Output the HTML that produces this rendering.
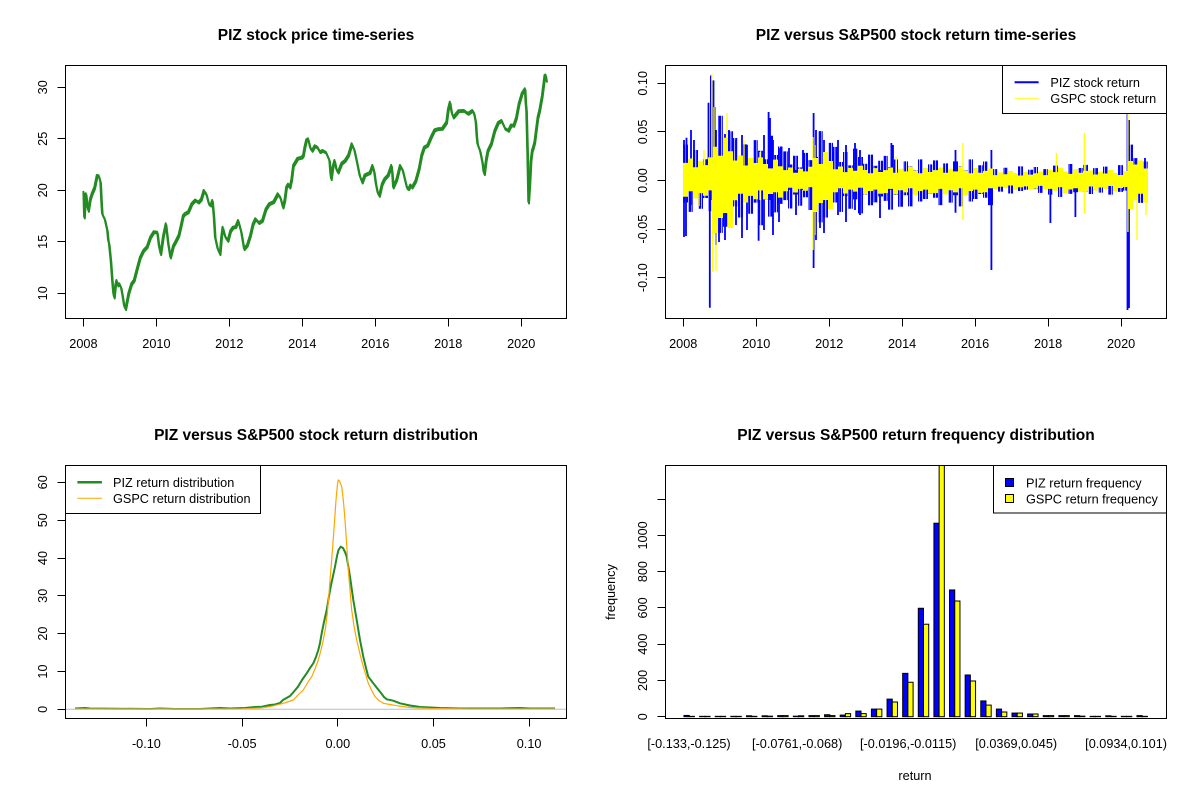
<!DOCTYPE html>
<html><head><meta charset="utf-8">
<style>
html,body{margin:0;padding:0;background:#fff;}
svg{display:block;font-family:"Liberation Sans",Arial,sans-serif;}
</style></head><body>
<svg width="1200" height="800" viewBox="0 0 1200 800" xmlns="http://www.w3.org/2000/svg">
<rect width="1200" height="800" fill="#fff"/>
<defs>
<clipPath id="c1"><rect x="66" y="66" width="500" height="252"/></clipPath>
<clipPath id="c2"><rect x="666" y="66" width="500" height="252"/></clipPath>
<clipPath id="c3"><rect x="66" y="466" width="500" height="252"/></clipPath>
<clipPath id="c4"><rect x="666" y="465.5" width="500" height="252.5"/></clipPath>
<pattern id="vb" x="0" y="0" width="13" height="20" patternUnits="userSpaceOnUse">
 <rect x="0" width="2.5" height="20" fill="#0000FF"/>
 <rect x="3.3" width="3" height="20" fill="#0000FF"/>
 <rect x="7.2" width="2" height="20" fill="#0000FF"/>
 <rect x="10" width="2.3" height="20" fill="#0000FF"/>
</pattern>
</defs>

<!-- Titles -->
<g font-size="15.5" font-weight="bold" text-anchor="middle" fill="#000">
<text x="316" y="40">PIZ stock price time-series</text>
<text x="916" y="40">PIZ versus S&amp;P500 stock return time-series</text>
<text x="316" y="440">PIZ versus S&amp;P500 stock return distribution</text>
<text x="916" y="440">PIZ versus S&amp;P500 return frequency distribution</text>
</g>

<!-- Panel 1 price -->
<g clip-path="url(#c1)" fill="none" stroke="#228B22" stroke-linejoin="round" stroke-linecap="round">
<polyline id="pl" stroke-width="2" points="83.4,191.7 83.8,207.2 84.1,216.7 85,202 85.8,193.3 87,204.7 88.2,210 90,198.7 91.7,193.3 94.3,187.2 96.8,175 98.6,175.3 100.3,181.7 101.2,200.5 102,213.3 104.6,218.7 107.1,230 108,239.7 108.9,243.3 110.6,260.3 112.3,283.3 113.2,293 114,296.7 115.2,285.3 116.4,280 117.8,284.7 119.2,283.3 120.9,287 122.6,296.7 124,305.5 125.4,308.3 128.4,292.8 131.3,283.3 133.9,279.7 136.4,270 139.9,257 143.3,250 146.8,246.3 150.2,236.7 153.7,231.2 157.1,231.7 158.8,245.5 160.5,253.3 163.1,235.3 165.7,223.3 168,243 170.2,256.7 173.1,245.3 176,240 178.6,234.7 181.2,223.3 182.9,215.3 184.6,213.3 188.1,211.3 191.5,203.3 195,199.5 198.4,201.7 201,198.8 203.6,190 206.2,193.7 208.7,203.3 210.5,204.7 212.2,200 213.6,215.3 214.9,236.7 217.4,248 219.8,253.3 221.2,237 222.5,226.7 225.1,236.3 227.7,240 230.3,230.3 232.8,226.7 235.4,226.3 238,220 241,231.2 243.9,248.3 247,244.7 250.1,235 252.7,223.7 255.2,218.3 258.7,222.2 262.1,220 265.6,208.7 269,203.3 273.3,201.3 277.6,193.3 280.2,197 282.8,206.7 284.5,199.7 286.2,186.7 288,183.7 289.7,186.7 291.4,178.8 293.1,165 297.4,157.8 301.7,156.7 303.1,154.7 304.5,146.7 306.2,139.5 307.9,138.3 310,147.2 312,150 314.6,145.3 317.2,146.7 319.8,151.3 322.4,150 325.9,152 329.3,160 330.2,172.2 331,178.3 332.7,166.2 334.4,160 336.2,168.8 337.9,171.7 341.4,162.8 344.8,160 348.2,154.7 351.6,143.3 354.2,149.5 356.8,161.7 359.4,174.7 362,181.7 364.6,174.5 367.1,173.3 369.7,172.2 372.3,165 374,171.2 375.7,183.3 377.5,192.2 379.2,195 381.8,183.7 384.4,178.3 387.8,174.7 391.2,165 392.1,172.8 393,186.7 396.5,178.8 399.9,165 402.5,169.5 405,180 406.8,187.2 408.5,188.3 410.2,184.5 411.9,186.7 415.4,180.5 418.8,168.3 421.4,154.5 424,146.7 427.4,144.7 430.8,136.7 434.3,129.5 437.7,128.3 442,128 446.3,121.7 448,108.7 449.8,101.7 451.5,112.2 453.2,116.7 458.4,110.3 463.6,110 467.9,113 472.2,110 473.9,112.8 475.6,121.7 476.5,135.5 477.3,143.3 479.9,150.3 482.5,163.3 483.4,171.3 484.2,173.3 486,158.7 487.7,150 491.1,143 494.5,130 498,122 501.4,120 504.9,128 508.3,130 510.9,124.5 513.5,125 516.1,117.2 518.7,103.3 521.8,92.8 524.8,88.3 525.5,102.2 526.2,110 527.3,152.8 528.3,201.7 529.5,183.8 530.7,160 531.9,150.3 533.1,146.7 534.5,141.3 535.9,130 537.6,117 539.3,110 541.9,95.5 544.5,75 545.4,74.5 546.2,80"/>
<use href="#pl" transform="translate(0.7,1.8)" stroke-width="1"/>
</g>

<!-- Panel 2 returns -->
<g clip-path="url(#c2)">
<path transform="translate(0,180.5) scale(1,1.12) translate(0,-180.5)" fill="url(#vb)" d="M683,180.5 V148.5 H688 V162.9 H693 V153.3 H698 V166.1 H703 V161.5 H708 V166.5 H713 V153 H718 V122.7 H723 V147.5 H728 V136.5 H733 V142.5 H738 V159.6 H743 V148.2 H748 V163.4 H753 V144.4 H758 V153.9 H763 V161.5 H768 V140.6 H773 V157.7 H778 V150.1 H783 V154.5 H788 V166.2 H793 V158.4 H798 V168.8 H803 V155.8 H808 V162.3 H813 V159.5 H818 V136.4 H823 V155.3 H828 V146.9 H833 V150.5 H838 V164 H843 V155 H848 V167 H853 V152 H858 V159.5 H863 V165.5 H868 V157.4 H873 V167.3 H878 V162.9 H883 V158.5 H888 V168.4 H893 V161.8 H898 V170.6 H903 V163.4 H908 V167.9 H913 V171.5 H918 V161.6 H923 V169.7 H928 V166.1 H933 V162.5 H938 V170.6 H943 V165.2 H948 V172.4 H953 V163.4 H958 V167.9 H963 V171.5 H968 V161.6 H973 V169.7 H978 V166.9 H983 V163.5 H988 V171.1 H993 V170.3 H998 V175.1 H1003 V169.1 H1008 V172.1 H1013 V174.5 H1018 V167.9 H1023 V173.3 H1028 V170.9 H1033 V168.5 H1038 V173.9 H1043 V170.3 H1048 V174.2 H1053 V167.2 H1058 V170.7 H1063 V173.5 H1068 V165.8 H1073 V172.1 H1078 V169.3 H1083 V166.5 H1088 V173.3 H1093 V169.4 H1098 V174.6 H1103 V168.1 H1108 V171.4 H1113 V174 H1118 V166.8 H1123 V172.7 H1128 V148.5 H1133 V160.5 H1138 V169.5 H1143 V163.5 H1148 V180.5 Z
M683,180.5 V200.1 H688 V208.5 H693 V194.5 H698 V205.7 H703 V196.1 H708 V207.8 H713 V205.3 H718 V227.3 H723 V221.8 H728 V210.8 H733 V203.6 H738 V213.5 H743 V197 H748 V210.2 H753 V200.3 H758 V220.4 H763 V197.6 H768 V212.8 H773 V209 H778 V201.4 H783 V198 H788 V205.5 H793 V193 H798 V203 H803 V195.5 H808 V206.8 H813 V200.3 H818 V217.9 H823 V213.5 H828 V204.7 H833 V200.1 H838 V208.5 H843 V194.5 H848 V205.7 H853 V197.3 H858 V209.9 H863 V193.1 H868 V202.6 H873 V200 H878 V194.8 H883 V198.7 H888 V206.5 H893 V193.5 H898 V203.9 H903 V193.7 H908 V203.6 H913 V190.4 H918 V199.2 H923 V197 H928 V192.6 H933 V195.9 H938 V202.5 H943 V191.5 H948 V200.3 H953 V193.7 H958 V203.6 H963 V190.4 H968 V199.2 H973 V197 H978 V192.6 H983 V195.9 H988 V202.5 H993 V186 H998 V190.4 H1003 V187.1 H1008 V192.1 H1013 V185.5 H1018 V189.9 H1023 V188.8 H1028 V186.6 H1033 V188.2 H1038 V191.5 H1043 V186 H1048 V193.1 H1053 V188.9 H1058 V195.2 H1063 V186.8 H1068 V192.4 H1073 V191 H1078 V188.2 H1083 V190.3 H1088 V192.5 H1093 V186.5 H1098 V191.3 H1103 V187.7 H1108 V193.1 H1113 V185.9 H1118 V190.7 H1123 V189.5 H1128 V202.5 H1133 V194.5 H1138 V200.5 H1143 V190.5 H1148 V180.5 Z"/>
<path fill="none" stroke="#0000FF" stroke-width="1.8" d="M709.8,180 V307.8 M710.9,75.5 V200 M713.5,80.4 V210 M708.5,102.7 V190 M714.6,107 V230 M716,130 V245 M691,130 V205 M686.5,137.7 V190 M686,170 V236 M684,140 V237 M694,140 V185 M719,160 V242 M725,134 V240 M729,130 V200 M736,140 V225 M742,135 V238 M747,145 V230 M758.6,170 V240.7 M768.6,112 V190 M770,118 V200 M764,135 V230 M773,140 V235 M779,148 V222 M789,148 V190 M796,170 V215 M803,150 V190 M813.6,113 V268 M816,130 V240 M820,137 V228 M824,140 V233 M838,140 V215 M846,145 V222 M855,143 V210 M860,150 V215 M880,170 V218 M891.4,143 V190 M893,145 V190 M955.5,150 V212.7 M991.4,150 V270 M1050.4,170 V223 M1075.4,170 V217 M1127.5,113 V310 M1129,120 V308 M1145,158 V195"/>
<path fill="#FFFF00" d="M683,180.5 V162.9 H688 V158.5 H693 V167.3 H698 V160.7 H703 V165.1 H708 V157.4 H713 V146.7 H718 V155.7 H723 V137.7 H728 V151.2 H733 V160.5 H738 V155.5 H743 V165.5 H748 V158 H753 V163 H758 V157.4 H763 V164 H768 V168.4 H773 V159.6 H778 V166.2 H783 V170.1 H788 V167.5 H793 V172.7 H798 V168.8 H803 V171.4 H808 V166.8 H813 V158 H818 V164 H823 V152 H828 V161 H833 V169.3 H838 V166.5 H843 V172.1 H848 V167.9 H853 V170.7 H858 V165.8 H863 V170 H868 V173.3 H873 V168.1 H878 V172 H883 V170.1 H888 V167.5 H893 V172.7 H898 V168.8 H903 V171.4 H908 V166.8 H913 V170.7 H918 V173.3 H923 V168.1 H928 V172 H933 V170.1 H938 V167.5 H943 V172.7 H948 V168.8 H953 V171.4 H958 V166.8 H963 V170.7 H968 V173.3 H973 V168.1 H978 V172.7 H983 V170.9 H988 V168.5 H993 V175.1 H998 V172.4 H1003 V174.2 H1008 V171 H1013 V173.7 H1018 V175.5 H1023 V171.9 H1028 V174.6 H1033 V173.3 H1038 V171.5 H1043 V175.1 H1048 V169.7 H1053 V172.1 H1058 V167.9 H1063 V171.5 H1068 V173.9 H1073 V169.1 H1078 V172.7 H1083 V170.9 H1088 V170.5 H1093 V174.5 H1098 V171.5 H1103 V173.5 H1108 V170 H1113 V173 H1118 V175 H1123 V171 H1128 V161 H1133 V164.5 H1138 V160.5 H1143 V168.5 H1148 V180.5 Z
M683,180.5 V196.7 H688 V191.3 H693 V198.5 H698 V193.1 H703 V195.8 H708 V190.4 H713 V233 H718 V218 H723 V213 H728 V228 H733 V200.3 H738 V193.7 H743 V202.5 H748 V195.9 H753 V199.2 H758 V190.4 H763 V199.4 H768 V194 H773 V192.2 H778 V197.6 H783 V191.3 H788 V187.7 H793 V192.5 H798 V188.9 H803 V190.7 H808 V187.1 H813 V212 H818 V203 H823 V200 H828 V209 H833 V192.2 H838 V188.3 H843 V193.5 H848 V189.6 H853 V191.6 H858 V187.7 H863 V194.2 H868 V191 H873 V189.6 H878 V193.8 H883 V193.1 H888 V188.9 H893 V194.5 H898 V190.3 H903 V192.4 H908 V188.2 H913 V195.2 H918 V191 H923 V189.6 H928 V193.8 H933 V193.1 H938 V188.9 H943 V194.5 H948 V190.3 H953 V192.4 H958 V188.2 H963 V195.2 H968 V191 H973 V189.6 H978 V192.9 H983 V192.2 H988 V188.3 H993 V189.5 H998 V186.8 H1003 V188.2 H1008 V185.5 H1013 V190 H1018 V187.3 H1023 V186.4 H1028 V189.1 H1033 V188.6 H1038 V185.9 H1043 V189.5 H1048 V188.9 H1053 V190.7 H1058 V187.1 H1063 V193.1 H1068 V189.5 H1073 V188.3 H1078 V191.9 H1083 V191.3 H1088 V186.5 H1093 V190.5 H1098 V187.5 H1103 V189 H1108 V186 H1113 V191 H1118 V188 H1123 V187 H1128 V209 H1133 V200.3 H1138 V193.7 H1143 V202.5 H1148 V180.5 Z"/>
<path fill="none" stroke="#FFFF00" stroke-width="1.3" d="M711.8,74 V180 M712.5,180 V271.7 M716,150 V271 M714,107 V200 M727,113 V200 M704,150 V190 M699,170 V206 M813,137 V250 M815,145 V235 M962.9,143 V220 M1056.4,153 V190 M1084.3,133 V213 M1127.9,93 V232 M1137,170 V240 M1146,170 V215 M760,152 V200 M896,157 V190 M744,140 V190"/>
</g>

<!-- Panel 3 densities -->
<g clip-path="url(#c3)" fill="none" stroke-linejoin="round">
<polyline stroke="#228B22" stroke-width="2" points="75,708.5 85,708 90,708.5 150,709 160,708.5 175,709 200,709 220,708 230,708.5 245,708 255,707 262,706.7 270,705 275,704.5 280,703 283,700 290,696 294,691.5 298,686.7 302,680 306.7,673.3 310,668 313.3,663.3 316,657 318.3,650 320,643 321.7,633.3 324,622 326.7,610 328.7,598 330.7,586.7 333,576 335,566.7 337,556 338.5,550 340.7,546.7 343,548 345,552 346.7,556.7 350,576.7 353.3,600 356.7,620 360,640 363.3,656.7 366,668 368.3,676.7 373.3,683.3 377,688 380,691.7 384,697 386.7,699.3 393.3,700.7 400,703.3 410,705.5 420,707 440,708 460,708.5 500,708.5 520,708 530,708.5 555,708.5"/>
<polyline stroke="#FFA500" stroke-width="1.2" points="75,709 150,709 200,709 240,709 260,708 270,706.7 283.3,703.3 293.3,700 298,695 303.3,690 308,682 311.7,676.7 315,669 318.3,660 321,650 323.3,640 325.5,628 327.3,613.3 328.8,596 330,580 331.5,562 332.7,546.7 334.5,522 336,500 337.5,484 338.3,480 339.5,481 341.7,486.7 343.5,502 345,520 346.7,545 348.3,570 350,590 351.7,610 354,626 356.7,640 360,654 363.3,666.7 365.8,675 368.3,683.3 371.7,690.5 375,696.7 379,700.5 383.3,703.3 390,704.5 396.7,705.7 410,707.5 430,708.5 470,709 520,709 555,709"/>
<line x1="66" y1="709.3" x2="566" y2="709.3" stroke="#BEBEBE" stroke-width="1"/>
</g>

<!-- Panel 4 bars -->
<g clip-path="url(#c4)" stroke="#000" stroke-width="1">
<g fill="#0000FF">
<rect x="683.99" y="715.43" width="5.21" height="1.27"/>
<rect x="699.61" y="716.34" width="5.21" height="0.36"/>
<rect x="715.23" y="716.34" width="5.21" height="0.36"/>
<rect x="730.85" y="716.34" width="5.21" height="0.36"/>
<rect x="746.47" y="715.79" width="5.21" height="0.91"/>
<rect x="762.09" y="715.79" width="5.21" height="0.91"/>
<rect x="777.71" y="715.61" width="5.21" height="1.09"/>
<rect x="793.33" y="716.16" width="5.21" height="0.54"/>
<rect x="808.95" y="715.61" width="5.21" height="1.09"/>
<rect x="824.57" y="714.71" width="5.21" height="1.99"/>
<rect x="840.19" y="715.07" width="5.21" height="1.63"/>
<rect x="855.81" y="711.08" width="5.21" height="5.62"/>
<rect x="871.43" y="709.08" width="5.21" height="7.62"/>
<rect x="887.05" y="699.11" width="5.21" height="17.59"/>
<rect x="902.67" y="673.36" width="5.21" height="43.34"/>
<rect x="918.29" y="608.26" width="5.21" height="108.44"/>
<rect x="933.91" y="523.22" width="5.21" height="193.48"/>
<rect x="949.53" y="589.95" width="5.21" height="126.75"/>
<rect x="965.15" y="674.99" width="5.21" height="41.71"/>
<rect x="980.77" y="700.92" width="5.21" height="15.78"/>
<rect x="996.39" y="709.08" width="5.21" height="7.62"/>
<rect x="1012.01" y="713.07" width="5.21" height="3.63"/>
<rect x="1027.63" y="713.98" width="5.21" height="2.72"/>
<rect x="1043.25" y="715.61" width="5.21" height="1.09"/>
<rect x="1058.87" y="715.61" width="5.21" height="1.09"/>
<rect x="1074.49" y="715.61" width="5.21" height="1.09"/>
<rect x="1090.11" y="716.34" width="5.21" height="0.36"/>
<rect x="1105.73" y="715.79" width="5.21" height="0.91"/>
<rect x="1121.35" y="716.34" width="5.21" height="0.36"/>
<rect x="1136.97" y="715.61" width="5.21" height="1.09"/>
</g>
<g fill="#FFFF00">
<rect x="689.2" y="716.34" width="5.21" height="0.36"/>
<rect x="704.82" y="716.34" width="5.21" height="0.36"/>
<rect x="720.44" y="716.34" width="5.21" height="0.36"/>
<rect x="736.06" y="716.34" width="5.21" height="0.36"/>
<rect x="751.68" y="716.34" width="5.21" height="0.36"/>
<rect x="767.3" y="716.16" width="5.21" height="0.54"/>
<rect x="782.92" y="715.61" width="5.21" height="1.09"/>
<rect x="798.54" y="715.79" width="5.21" height="0.91"/>
<rect x="814.16" y="715.61" width="5.21" height="1.09"/>
<rect x="829.78" y="715.61" width="5.21" height="1.09"/>
<rect x="845.4" y="713.62" width="5.21" height="3.08"/>
<rect x="861.02" y="713.62" width="5.21" height="3.08"/>
<rect x="876.64" y="709.08" width="5.21" height="7.62"/>
<rect x="892.26" y="702.01" width="5.21" height="14.69"/>
<rect x="907.88" y="682.25" width="5.21" height="34.45"/>
<rect x="923.5" y="624.22" width="5.21" height="92.48"/>
<rect x="939.12" y="455" width="5.21" height="261.7"/>
<rect x="954.74" y="601.01" width="5.21" height="115.69"/>
<rect x="970.36" y="680.98" width="5.21" height="35.72"/>
<rect x="985.98" y="705.09" width="5.21" height="11.61"/>
<rect x="1001.6" y="711.99" width="5.21" height="4.71"/>
<rect x="1017.22" y="713.07" width="5.21" height="3.63"/>
<rect x="1032.84" y="713.98" width="5.21" height="2.72"/>
<rect x="1048.46" y="715.61" width="5.21" height="1.09"/>
<rect x="1064.08" y="715.61" width="5.21" height="1.09"/>
<rect x="1079.7" y="716.16" width="5.21" height="0.54"/>
<rect x="1095.32" y="716.34" width="5.21" height="0.36"/>
<rect x="1110.94" y="716.34" width="5.21" height="0.36"/>
<rect x="1126.56" y="716.34" width="5.21" height="0.36"/>
<rect x="1142.18" y="716.34" width="5.21" height="0.36"/>
</g>
</g>

<!-- Legend for panel 2 (opaque) -->
<g>
<rect x="1002.5" y="65.5" width="164" height="48" fill="#fff" stroke="#000" stroke-width="1"/>
<line x1="1014.6" y1="82.3" x2="1038.6" y2="82.3" stroke="#0000FF" stroke-width="2"/>
<line x1="1014.6" y1="98.3" x2="1038.6" y2="98.3" stroke="#FFFF00" stroke-width="1"/>
<text x="1050.4" y="86.8" font-size="12.7">PIZ stock return</text>
<text x="1050.4" y="102.8" font-size="12.7">GSPC stock return</text>
</g>

<!-- Legend panel 3 -->
<g>
<rect x="65.5" y="465.5" width="195" height="48" fill="#fff" stroke="#000" stroke-width="1"/>
<line x1="77.4" y1="482.3" x2="101.9" y2="482.3" stroke="#228B22" stroke-width="2.5"/>
<line x1="77.4" y1="498.3" x2="101.9" y2="498.3" stroke="#FFA500" stroke-width="1"/>
<text x="113" y="486.8" font-size="12.7">PIZ return distribution</text>
<text x="113" y="502.8" font-size="12.7">GSPC return distribution</text>
</g>

<!-- Legend panel 4 -->
<g>
<rect x="993.5" y="465.5" width="173" height="47.5" fill="#fff" stroke="#000" stroke-width="1"/>
<rect x="1005.5" y="478.5" width="8" height="8" fill="#0000FF" stroke="#000" stroke-width="1"/>
<rect x="1005.5" y="494.5" width="8" height="8" fill="#FFFF00" stroke="#000" stroke-width="1"/>
<text x="1026" y="487.3" font-size="12.7">PIZ return frequency</text>
<text x="1026" y="503.3" font-size="12.7">GSPC return frequency</text>
</g>

<!-- Boxes -->
<g fill="none" stroke="#000" stroke-width="1">
<rect x="65.5" y="65.5" width="501" height="253"/>
<rect x="665.5" y="65.5" width="501" height="253"/>
<rect x="65.5" y="465.5" width="501" height="253"/>
<rect x="665.5" y="465.5" width="501" height="253"/>
</g>

<!-- Ticks -->
<g stroke="#000" stroke-width="1">
<line x1="83.5" y1="318.5" x2="83.5" y2="326.5"/>
<line x1="156.5" y1="318.5" x2="156.5" y2="326.5"/>
<line x1="229.5" y1="318.5" x2="229.5" y2="326.5"/>
<line x1="302.5" y1="318.5" x2="302.5" y2="326.5"/>
<line x1="375.5" y1="318.5" x2="375.5" y2="326.5"/>
<line x1="448.5" y1="318.5" x2="448.5" y2="326.5"/>
<line x1="521.5" y1="318.5" x2="521.5" y2="326.5"/>
<line x1="57.5" y1="87.5" x2="65.5" y2="87.5"/>
<line x1="57.5" y1="138.5" x2="65.5" y2="138.5"/>
<line x1="57.5" y1="190.5" x2="65.5" y2="190.5"/>
<line x1="57.5" y1="241.5" x2="65.5" y2="241.5"/>
<line x1="57.5" y1="293.5" x2="65.5" y2="293.5"/>
<line x1="683.5" y1="318.5" x2="683.5" y2="326.5"/>
<line x1="756.5" y1="318.5" x2="756.5" y2="326.5"/>
<line x1="829.5" y1="318.5" x2="829.5" y2="326.5"/>
<line x1="902.5" y1="318.5" x2="902.5" y2="326.5"/>
<line x1="975.5" y1="318.5" x2="975.5" y2="326.5"/>
<line x1="1048.5" y1="318.5" x2="1048.5" y2="326.5"/>
<line x1="1121.5" y1="318.5" x2="1121.5" y2="326.5"/>
<line x1="657.5" y1="83.5" x2="665.5" y2="83.5"/>
<line x1="657.5" y1="131.5" x2="665.5" y2="131.5"/>
<line x1="657.5" y1="180.5" x2="665.5" y2="180.5"/>
<line x1="657.5" y1="229.5" x2="665.5" y2="229.5"/>
<line x1="657.5" y1="277.5" x2="665.5" y2="277.5"/>
<line x1="146.5" y1="718.5" x2="146.5" y2="726.5"/>
<line x1="242.5" y1="718.5" x2="242.5" y2="726.5"/>
<line x1="337.5" y1="718.5" x2="337.5" y2="726.5"/>
<line x1="433.5" y1="718.5" x2="433.5" y2="726.5"/>
<line x1="529.5" y1="718.5" x2="529.5" y2="726.5"/>
<line x1="57.5" y1="709.5" x2="65.5" y2="709.5"/>
<line x1="57.5" y1="671.5" x2="65.5" y2="671.5"/>
<line x1="57.5" y1="633.5" x2="65.5" y2="633.5"/>
<line x1="57.5" y1="595.5" x2="65.5" y2="595.5"/>
<line x1="57.5" y1="558.5" x2="65.5" y2="558.5"/>
<line x1="57.5" y1="520.5" x2="65.5" y2="520.5"/>
<line x1="57.5" y1="482.5" x2="65.5" y2="482.5"/>
<line x1="657.5" y1="716.5" x2="665.5" y2="716.5"/>
<line x1="657.5" y1="680.5" x2="665.5" y2="680.5"/>
<line x1="657.5" y1="644.5" x2="665.5" y2="644.5"/>
<line x1="657.5" y1="607.5" x2="665.5" y2="607.5"/>
<line x1="657.5" y1="571.5" x2="665.5" y2="571.5"/>
<line x1="657.5" y1="535.5" x2="665.5" y2="535.5"/>
<line x1="657.5" y1="499.5" x2="665.5" y2="499.5"/>
</g>

<!-- Tick labels -->
<g font-size="12.7" text-anchor="middle" fill="#000">
<text x="83.4" y="347.8">2008</text>
<text x="156.4" y="347.8">2010</text>
<text x="229.3" y="347.8">2012</text>
<text x="302.3" y="347.8">2014</text>
<text x="375.3" y="347.8">2016</text>
<text x="448.2" y="347.8">2018</text>
<text x="521.2" y="347.8">2020</text>
<text transform="translate(47,87.3) rotate(-90)">30</text>
<text transform="translate(47,138.8) rotate(-90)">25</text>
<text transform="translate(47,190.3) rotate(-90)">20</text>
<text transform="translate(47,241.8) rotate(-90)">15</text>
<text transform="translate(47,293.3) rotate(-90)">10</text>

<text x="683.2" y="347.8">2008</text>
<text x="756.2" y="347.8">2010</text>
<text x="829.2" y="347.8">2012</text>
<text x="902.1" y="347.8">2014</text>
<text x="975.1" y="347.8">2016</text>
<text x="1048.1" y="347.8">2018</text>
<text x="1121.1" y="347.8">2020</text>
<text transform="translate(647,83.3) rotate(-90)">0.10</text>
<text transform="translate(647,131.9) rotate(-90)">0.05</text>
<text transform="translate(647,180.5) rotate(-90)">0.00</text>
<text transform="translate(647,229.1) rotate(-90)">-0.05</text>
<text transform="translate(647,277.7) rotate(-90)">-0.10</text>

<text x="146.4" y="747.8">-0.10</text>
<text x="242.1" y="747.8">-0.05</text>
<text x="337.8" y="747.8">0.00</text>
<text x="433.5" y="747.8">0.05</text>
<text x="529.1" y="747.8">0.10</text>
<text transform="translate(47,709.3) rotate(-90)">0</text>
<text transform="translate(47,671.5) rotate(-90)">10</text>
<text transform="translate(47,633.6) rotate(-90)">20</text>
<text transform="translate(47,595.8) rotate(-90)">30</text>
<text transform="translate(47,558) rotate(-90)">40</text>
<text transform="translate(47,520.2) rotate(-90)">50</text>
<text transform="translate(47,482.3) rotate(-90)">60</text>

<text transform="translate(647,716.7) rotate(-90)">0</text>
<text transform="translate(647,680.4) rotate(-90)">200</text>
<text transform="translate(647,644.2) rotate(-90)">400</text>
<text transform="translate(647,607.9) rotate(-90)">600</text>
<text transform="translate(647,571.6) rotate(-90)">800</text>
<text transform="translate(647,535.4) rotate(-90)">1000</text>

<text x="689" y="747.8">[-0.133,-0.125)</text>
<text x="797.2" y="747.8">[-0.0761,-0.068)</text>
<text x="908.2" y="747.8">[-0.0196,-0.0115)</text>
<text x="1016.2" y="747.8">[0.0369,0.045)</text>
<text x="1126.1" y="747.8">[0.0934,0.101)</text>

<text transform="translate(615,592) rotate(-90)">frequency</text>
<text x="915" y="780">return</text>
</g>
</svg>
</body></html>
